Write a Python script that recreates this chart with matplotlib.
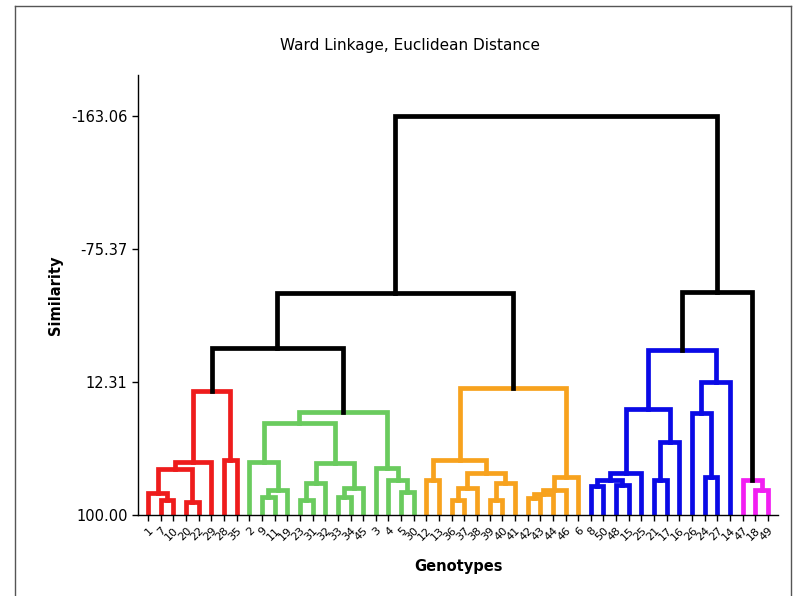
import matplotlib.pyplot as plt

# genotype labels in leaf order (left to right)
labels = ["1", "7", "10", "20", "22", "29", "28", "35",
          "2", "9", "11", "19", "23", "31", "32", "33", "34", "45", "3", "4", "5", "30",
          "12", "13", "36", "37", "38", "39", "40", "41", "42", "43", "44", "46", "6",
          "8", "50", "48", "15", "25", "21", "17", "16", "26", "24", "27", "14",
          "47", "18", "49"]

# trees: (similarity, left, right), leaves are leaf positions
red = (18.2, (65.1, (69.7, (85.5, 0, (90.1, 1, 2)), (91.4, 3, 4)), 5), (63.7, 6, 7))
green = (31.9,
         (39.3, (65.1, 8, (83.5, (88.1, 9, 10), 11)),
          (65.7, (78.9, (90.1, 12, 13), 14), (82.2, (88.1, 15, 16), 17))),
         (69.0, 18, (76.9, 19, (84.8, 20, 21))))
orange = (16.3,
          (63.7, (76.9, 22, 23),
           (72.3, (82.2, (90.1, 24, 25), 26), (78.9, (90.1, 27, 28), 29))),
          (74.9, (83.5, (86.2, (88.8, 30, 31), 32), 33), 34))
blue = (-8.8,
        (30.1, (72.3, (76.9, (80.9, 35, 36), (80.2, 37, 38)), 39),
         (51.9, (76.9, 40, 41), 42)),
        (12.3, (32.8, 43, (74.9, 44, 45)), 46))
magenta = (76.9, 47, (83.5, 48, 49))

clusters = {"red": red, "green": green, "orange": orange, "blue": blue, "magenta": magenta}
colors = {"red": "#ee1c1c", "green": "#6acb5e", "orange": "#f7a21e",
          "blue": "#0a0ae6", "magenta": "#f21ef2"}

top = (-163.06, (-46.4, (-10.1, "red", "green"), "orange"), (-47.0, "blue", "magenta"))

yticks = [-163.06, -75.37, 12.31, 100.00]

fig = plt.figure(figsize=(8.01, 5.96), dpi=100)
ax = fig.add_axes([0.1723, 0.1359, 0.799, 0.7383])


def draw(node, color):
    if isinstance(node, str):
        return draw(clusters[node], colors[node])
    if isinstance(node, int):
        return node, 100.0
    h, a, b = node
    xa, ya = draw(a, color)
    xb, yb = draw(b, color)
    ax.plot([xa, xa, xb, xb], [ya, h, h, yb], color=color, lw=3.4,
            solid_joinstyle="miter", zorder=2)
    return (xa + xb) / 2, h


draw(top, "black")

ax.set_xlim(-0.8, 49.8)
ax.set_ylim(100, -190)
ax.set_yticks(yticks)
ax.set_yticklabels(["%.2f" % v for v in yticks], fontsize=10.5)
ax.set_xticks(range(len(labels)))
ax.set_xticklabels(labels, rotation=45, ha="right", rotation_mode="anchor", fontsize=8)
ax.tick_params(axis="both", direction="out", length=4, width=1)

for s in ["top", "right"]:
    ax.spines[s].set_visible(False)
ax.spines["left"].set_linewidth(1)
ax.spines["bottom"].set_linewidth(1)

ax.set_ylabel("Similarity", fontsize=10.5, fontweight="bold", labelpad=6)
ax.set_xlabel("Genotypes", fontsize=10.5, fontweight="bold", labelpad=12)
fig.text(0.512, 0.924, "Ward Linkage, Euclidean Distance", ha="center", va="center", fontsize=11)

# outer frame of the picture
fig.add_artist(plt.Line2D([0.019, 0.019], [0.0, 0.99], color="#555555", lw=1))
fig.add_artist(plt.Line2D([0.019, 0.987], [0.99, 0.99], color="#555555", lw=1))
fig.add_artist(plt.Line2D([0.987, 0.987], [0.0, 0.99], color="#555555", lw=1))

fig.savefig("out.png", dpi=100)
